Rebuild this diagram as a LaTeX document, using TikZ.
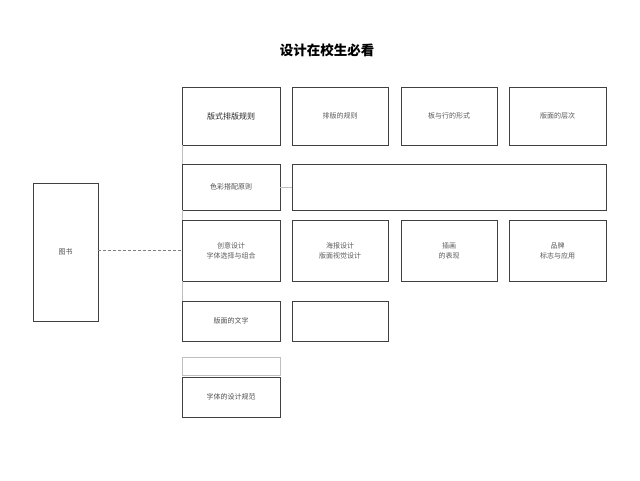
\documentclass[tikz,border=0pt]{standalone}
\usepackage{fontspec}
\setmainfont{Noto Sans CJK SC}
\begin{document}
\begin{tikzpicture}[x=1pt,y=-1pt,
 bx/.style={draw=black!75,line width=0.6pt,align=center,font=\fontsize{7}{10}\selectfont,text=black!70},
 tx/.style={align=center,font=\fontsize{7}{10}\selectfont,text=black!65},
 ln/.style={draw=black!25,line width=0.5pt}]
\useasboundingbox (0,0) rectangle (640,480);
\node[font=\fontsize{13.5}{16}\selectfont\bfseries] (t) at (327,50) {设计在校生必看};
\node[bx,minimum width=65,minimum height=138] (L) at (65.5,252) {图书};
\foreach \n/\x/\w in {a/231/98,b/340/96,c/449/96,d/557.5/97}{
 \node[bx,minimum width=\w,minimum height=58] (r1\n) at (\x,116) {};
 \node[bx,minimum width=\w,minimum height=61] (r3\n) at (\x,250.5) {};}
\node at (r1a) [tx,font=\fontsize{8}{10}\selectfont,text=black!85] {版式排版规则};
\node at (r1b) [tx] {排版的规则};
\node at (r1c) [tx] {板与行的形式};
\node at (r1d) [tx] {版面的层次};
\node at (r3a) [tx] {创意设计\\字体选择与组合};
\node at (r3b) [tx] {海报设计\\版面视觉设计};
\node at (r3c) [tx] {插画\\的表现};
\node at (r3d) [tx] {品牌\\标志与应用};
\node[bx,minimum width=98,minimum height=46] (r2a) at (231,187) {色彩搭配原则};
\node[bx,minimum width=314,minimum height=46] (r2b) at (449,187) {};
\node[bx,minimum width=98,minimum height=40] (r4a) at (231,321) {版面的文字};
\node[bx,minimum width=96,minimum height=40] (r4b) at (340,321) {};
\node[bx,minimum width=98,minimum height=40] (r5a) at (231,397) {字体的设计规范};
\draw[ln] (182,357) rectangle (280,375);
\coordinate (v1) at (182,145); \coordinate (v2) at (182,164);
\coordinate (v3) at (182,210); \coordinate (v4) at (182,220);
\coordinate (v5) at (182,281); \coordinate (v6) at (182,301);
\draw[ln] (v1) -- (v2) (v3) -- (v4) (v5) -- (v6);
\draw[ln] (r2a.east) -- (r2b.west);
\draw[black!50,densely dashed,line width=0.5pt] (L.east |- r3a.west) -- (r3a.west);
\end{tikzpicture}
\end{document}
